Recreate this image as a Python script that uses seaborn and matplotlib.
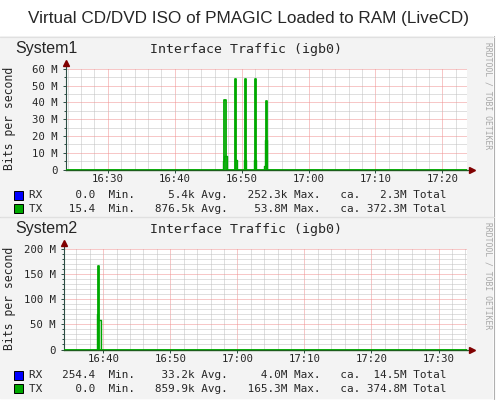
import matplotlib
matplotlib.use("Agg")
import matplotlib.pyplot as plt
from matplotlib.patches import Rectangle
import seaborn as sns

# times are minutes after 16:00, rates in Mbit/s
title = "Virtual CD/DVD ISO of PMAGIC Loaded to RAM (LiveCD)"
host_names = ["System1", "System2"]
graph_title = "Interface Traffic (igb0)"

# System1
x1_range = [23.7, 83.65]
x1_ticks = [30, 40, 50, 60, 70, 80]
x1_labels = ["16:30", "16:40", "16:50", "17:00", "17:10", "17:20"]
y1_ticks = [0, 10, 20, 30, 40, 50, 60]
y1_labels = ["0", "10 M", "20 M", "30 M", "40 M", "50 M", "60 M"]
tx1_max_t = [23.7, 47.43, 47.6, 49.03, 49.18, 50.45, 50.6, 51.95, 52.1, 53.6, 53.75, 83.65]
tx1_max_v = [0, 41.2, 0, 53.8, 0, 53.8, 0, 53.8, 0, 40.7, 0, 0]
tx1_avg_t = [23.7, 47.25, 47.43, 47.76, 48.95, 49.24, 50.37, 50.66, 51.87, 52.16, 53.34, 53.49, 53.78, 83.65]
tx1_avg_v = [0, 4.9, 7.9, 0, 5.9, 0, 5.9, 0, 5.9, 0, 2.0, 17.5, 0, 0]
rx1_t = [23.7, 83.65]
rx1_v = [0, 0]
rx1_stats = ["0.0", "5.4k", "252.3k", "2.3M"]
tx1_stats = ["15.4", "876.5k", "53.8M", "372.3M"]

# System2
x2_range = [34.2, 94.2]
x2_ticks = [40, 50, 60, 70, 80, 90]
x2_labels = ["16:40", "16:50", "17:00", "17:10", "17:20", "17:30"]
y2_ticks = [0, 50, 100, 150, 200]
y2_labels = ["0", "50 M", "100 M", "150 M", "200 M"]
tx2_max_t = [34.2, 39.27, 39.42, 94.2]
tx2_max_v = [0, 165.3, 0, 0]
tx2_avg_t = [34.2, 39.1, 39.25, 39.7, 94.2]
tx2_avg_v = [0, 69.8, 58.5, 0, 0]
rx2_t = [34.2, 39.25, 39.55, 94.2]
rx2_v = [0, 4.0, 0, 0]
rx2_stats = ["254.4", "33.2k", "4.0M", "14.5M"]
tx2_stats = ["0.0", "859.9k", "165.3M", "374.8M"]

sns.set_theme(style="white")
plt.rcParams["font.family"] = ["DejaVu Sans Mono"]

W, H = 496, 400
fig = plt.figure(figsize=(W / 100, H / 100), dpi=100)
fig.patch.set_facecolor("white")

def fx(x):
    return x / W

def fy(y):
    return 1 - y / H

BACK = "#f3f3f3"
GREEN = "#00a800"
LIGHT = "#cfe3cf"
BLUE = "#0000ff"
AXIS = "#2c4d43"
ARROW = "#800000"
MONO = "DejaVu Sans Mono"
SANS = "Liberation Sans"

fig.text(0.5, fy(18), title, ha="center", va="center", fontsize=12.3, family=SANS)


def legend_line(name, s):
    return f"{name:2s}{s[0]:>8s}  Min.{s[1]:>9s} Avg.{s[2]:>9s} Max.   ca.{s[3]:>7s} Total"


def panel(top, bottom, left, host, xr, xt, xl, yt, yl, ymin_step,
          rx_t, rx_v, tx_avg_t, tx_avg_v, tx_max_t, tx_max_v, rx_s, tx_s):
    # grey panel background with shaded border
    fig.patches.append(Rectangle((0, fy(bottom)), fx(493), (bottom - top) / H,
                                 transform=fig.transFigure, facecolor=BACK,
                                 edgecolor="none", zorder=-5))
    fig.add_artist(plt.Line2D([fx(493.5), fx(493.5)], [fy(bottom), fy(top)],
                              color="#b0b0b0", lw=0.8))
    fig.add_artist(plt.Line2D([0, fx(493.5)], [fy(bottom + 0.5), fy(bottom + 0.5)],
                              color="#c8c8c8", lw=0.8))
    fig.add_artist(plt.Line2D([0, fx(493.5)], [fy(top + 0.5), fy(top + 0.5)],
                              color="#e0e0e0", lw=0.8))

    ax_top, ax_bot = top + 32.7, top + 133.5
    ax = fig.add_axes([fx(left), fy(ax_bot), fx(466.7) - fx(left), (ax_bot - ax_top) / H])
    ax.set_facecolor("white")

    ax.fill_between(rx_t, rx_v, step="post", color=BLUE, lw=0, zorder=2)
    ax.fill_between(tx_avg_t, tx_avg_v, step="post", color=LIGHT, lw=0, zorder=2)
    sns.lineplot(x=tx_avg_t, y=tx_avg_v, ax=ax, color=GREEN, lw=1.0,
                 drawstyle="steps-post", estimator=None, sort=False, zorder=3)
    sns.lineplot(x=tx_max_t, y=tx_max_v, ax=ax, color=GREEN, lw=1.3,
                 drawstyle="steps-post", estimator=None, sort=False, zorder=4)

    ax.set_xlim(xr)
    ax.set_ylim(yt[0], yt[-1])
    ax.set_xticks(xt)
    ax.set_xticklabels(xl)
    ax.set_yticks(yt)
    ax.set_yticklabels(yl)
    ax.set_xticks([v for v in range(int(xr[0]) + 1, int(xr[1]) + 1) if v % 2 == 0], minor=True)
    ax.set_yticks(list(range(yt[0], yt[-1] + 1, ymin_step)), minor=True)
    ax.grid(which="minor", color="#c0c0c0", lw=0.72, linestyle=(0, (1, 1)), zorder=0)
    ax.grid(which="major", color="#f09090", lw=0.72, linestyle=(0, (1, 1)), zorder=1)
    ax.set_axisbelow(True)
    ax.tick_params(which="both", direction="out", length=2, width=0.7, color=AXIS,
                   labelsize=7.7, left=True, bottom=True, pad=1)
    ax.tick_params(axis="x", which="minor", length=0)
    ax.tick_params(axis="y", which="minor", length=1.5)
    ax.tick_params(axis="y", pad=4)
    for s in ["top", "right"]:
        ax.spines[s].set_visible(False)
    ax.spines["left"].set_color(AXIS)
    ax.spines["bottom"].set_color("#1d5c1d")
    ax.spines["left"].set_linewidth(0.8)
    ax.spines["bottom"].set_linewidth(1.0)
    ax.set_xlabel("")
    ax.set_ylabel("")

    # axis arrows
    ax.plot([0, 0], [1, 1.06], transform=ax.transAxes, color=AXIS, lw=0.8, clip_on=False)
    ax.plot([1, 1.012], [0, 0], transform=ax.transAxes, color=AXIS, lw=0.8, clip_on=False)
    ax.plot(0, 1.06, marker="^", ms=4.5, color=ARROW, transform=ax.transAxes, clip_on=False)
    ax.plot(1.012, 0, marker=">", ms=4.5, color=ARROW, transform=ax.transAxes, clip_on=False)

    fig.text(fx(15), fy(top + 12.5), host, ha="left", va="center", fontsize=11.5, family=SANS)
    fig.text(fx(246), fy(top + 13.5), graph_title, ha="center", va="center", fontsize=9.5, family=MONO)
    fig.text(fx(10), fy(top + 82), "Bits per second", rotation=90, ha="center", va="center",
             fontsize=8.3, family=MONO)
    fig.text(fx(488), fy(top + 60), "RRDTOOL / TOBI OETIKER", rotation=270, ha="center",
             va="center", fontsize=5.8, family=MONO, color="#a8a8a8")

    for i, (name, col, st) in enumerate([("RX", BLUE, rx_s), ("TX", GREEN, tx_s)]):
        yy = top + 159 + i * 13.7
        fig.patches.append(Rectangle((fx(14), fy(yy + 4.5)), 9 / W, 9 / H,
                                     transform=fig.transFigure, facecolor=col,
                                     edgecolor="black", lw=0.7))
        fig.text(fx(29), fy(yy), legend_line(name, st), ha="left", va="center",
                 fontsize=7.95, family=MONO)
    return ax


panel(36, 216, 65.7, host_names[0], x1_range, x1_ticks, x1_labels, y1_ticks, y1_labels, 5,
      rx1_t, rx1_v, tx1_avg_t, tx1_avg_v, tx1_max_t, tx1_max_v, rx1_stats, tx1_stats)
panel(216, 399, 64.3, host_names[1], x2_range, x2_ticks, x2_labels, y2_ticks, y2_labels, 10,
      rx2_t, rx2_v, tx2_avg_t, tx2_avg_v, tx2_max_t, tx2_max_v, rx2_stats, tx2_stats)

fig.savefig("out.png", dpi=100)
